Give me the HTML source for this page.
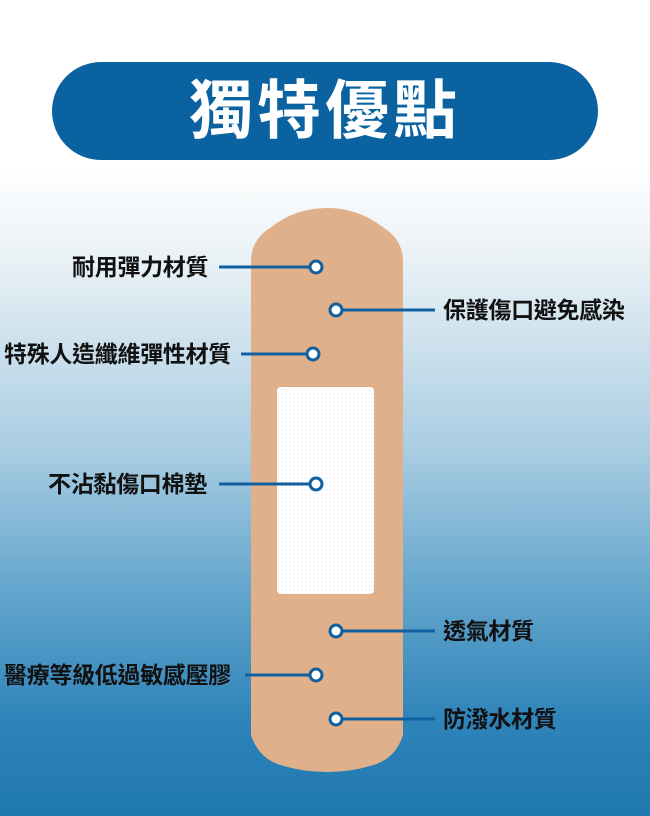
<!DOCTYPE html>
<html><head><meta charset="utf-8"><style>
body{margin:0;width:650px;height:816px;overflow:hidden;background:linear-gradient(to bottom,#fff 0px,#fff 165px,#e9f1f6 260px,#a9cde2 450px,#5fa3cb 600px,#2f84b9 720px,#1f78b0 816px);position:relative;font-family:"Liberation Sans","Noto Sans CJK TC",sans-serif}
.pill{position:absolute;left:52px;top:62px;width:546px;height:98px;border-radius:49px;background:#0a63a0;color:#fff;font-size:64px;font-weight:bold;text-align:center;line-height:98px;letter-spacing:4px}
.t{position:absolute;font-size:23px;font-weight:bold;color:#111;line-height:26px;white-space:nowrap;letter-spacing:-0.3px}
svg{position:absolute;left:0;top:0}
</style></head><body>
<div class="pill">獨特優點</div>
<svg width="650" height="816">
<defs><pattern id="p" width="4" height="4" patternUnits="userSpaceOnUse"><rect width="4" height="4" fill="#fff"/><circle cx="2" cy="2" r="0.6" fill="#e2e2e8"/></pattern></defs>
<path d="M251 262 Q251 240 270 228 Q295 208 327 208 Q359 208 384 228 Q403 240 403 262 L403 735 Q395 760 370 766 Q350 772 327 772 Q304 772 284 766 Q259 760 251 735 Z" fill="#e0b08a"/>
<rect x="277" y="387" width="97" height="207" rx="4" fill="url(#p)"/>
<g stroke="#1060a0" stroke-width="3">
<line x1="219" y1="267" x2="310" y2="267"/>
<line x1="342" y1="310" x2="435" y2="310"/>
<line x1="241" y1="354" x2="307" y2="354"/>
<line x1="219" y1="484" x2="310" y2="484"/>
<line x1="342" y1="631" x2="435" y2="631"/>
<line x1="245" y1="675" x2="310" y2="675"/>
<line x1="342" y1="719" x2="435" y2="719"/>
</g>
<g fill="#fff" stroke="#1060a0" stroke-width="3">
<circle cx="316" cy="267" r="6"/><circle cx="336" cy="310" r="6"/><circle cx="313" cy="354" r="6"/>
<circle cx="316" cy="484" r="6"/><circle cx="336" cy="631" r="6"/><circle cx="316" cy="675" r="6"/><circle cx="336" cy="719" r="6"/>
</g>
</svg>
<div class="t" style="left:72px;top:254px">耐用彈力材質</div>
<div class="t" style="left:443px;top:297px">保護傷口避免感染</div>
<div class="t" style="left:4px;top:341px">特殊人造纖維彈性材質</div>
<div class="t" style="left:48px;top:471px">不沾黏傷口棉墊</div>
<div class="t" style="left:443px;top:618px">透氣材質</div>
<div class="t" style="left:4px;top:662px">醫療等級低過敏感壓膠</div>
<div class="t" style="left:443px;top:706px">防潑水材質</div>
</body></html>
